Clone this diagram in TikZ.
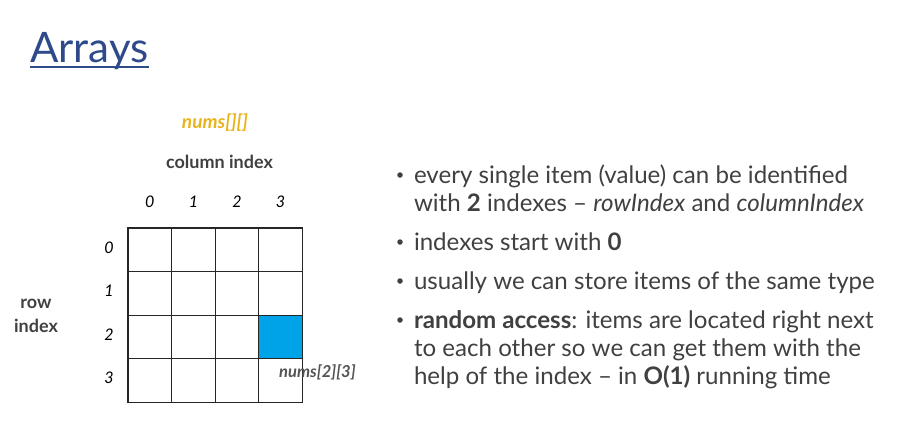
\documentclass[tikz,border=0pt]{standalone}
\usepackage{fontspec}
\setmainfont{Lato}
\begin{document}
\definecolor{titleblue}{HTML}{2E4A8A}
\definecolor{bodygrey}{HTML}{404040}
\definecolor{gold}{HTML}{E8B41E}
\definecolor{cellblue}{HTML}{00A2E8}
\begin{tikzpicture}[x=1pt,y=-1pt,
  txt/.style={inner sep=0pt,outer sep=0pt,text=bodygrey},
  bodyline/.style={txt,anchor=base west,font=\fontsize{24.1}{28}\selectfont},
  dot/.style={circle,fill=bodygrey,inner sep=0pt,minimum size=5.5pt},
  idx/.style={inner sep=0pt,anchor=base,text=black,font=\fontsize{16}{18}\selectfont\itshape},
  lbl/.style={txt,anchor=base,font=\fontsize{18}{20}\selectfont\bfseries},
  cell/.style={draw=black!85,line width=1.3pt,minimum size=43.6pt,inner sep=0pt,outer sep=0pt}]
\useasboundingbox (0,0) rectangle (913,445);

% title with its underline
\node[inner sep=0pt,anchor=base west,text=titleblue,font=\fontsize{42}{48}\selectfont] (title) at (30,62) {Arrays};
\draw[titleblue,line width=2pt] ([yshift=-4.5pt]title.base west) -- ([yshift=-4.5pt]title.base east);

% array name and axis labels
\node[inner sep=0pt,anchor=base,text=gold,font=\fontsize{19}{20}\selectfont\bfseries\itshape] (name) at (215,128) {nums[][]};
\node[lbl] (colidx) at (219.5,168) {column index};
\node[lbl] (rowlbl) at (36,308) {row};
\node[lbl] (idxlbl) at (36,332) {index};

% 4x4 grid of cells
\foreach \r in {0,...,3}{
  \foreach \c in {0,...,3}{
    \node[cell] (c\r\c) at ({149.8+43.6*\c},{249.8+43.6*\r}) {};
  }
}
\node[cell,fill=cellblue] (c23) at ({149.8+43.6*3},{249.8+43.6*2}) {};

% column and row numbers
\foreach \c in {0,...,3}{
  \node[idx] (col\c) at ({149.8+43.6*\c},207) {\c};
}
\foreach \r in {0,...,3}{
  \node[idx] (row\r) at (109,{253+43.6*\r}) {\r};
}

\node[inner sep=0pt,anchor=base west,text=bodygrey!90,font=\fontsize{16.5}{18}\selectfont\bfseries\itshape] (pick) at (279,377) {nums[2][3]};

% bullet points
\node[dot] (b1) at (400,175) {};
\node[bodyline] (l1) at (414,183) {every single item (value) can be identified};
\node[bodyline] (l2) at (414,211) {with \textbf{2} indexes -- \textit{rowIndex} and \textit{columnIndex}};
\node[dot] (b2) at (400,242) {};
\node[bodyline] (l3) at (414,250) {indexes start with \textbf{0}};
\node[dot] (b3) at (400,281) {};
\node[bodyline] (l4) at (414,289) {usually we can store items of the same type};
\node[dot] (b4) at (400,320) {};
\node[bodyline] (l5) at (414,328) {\textbf{random access}: items are located right next};
\node[bodyline] (l6) at (414,356) {to each other so we can get them with the};
\node[bodyline] (l7) at (414,384) {help of the index -- in \textbf{O(1)} running time};
\end{tikzpicture}
\end{document}
